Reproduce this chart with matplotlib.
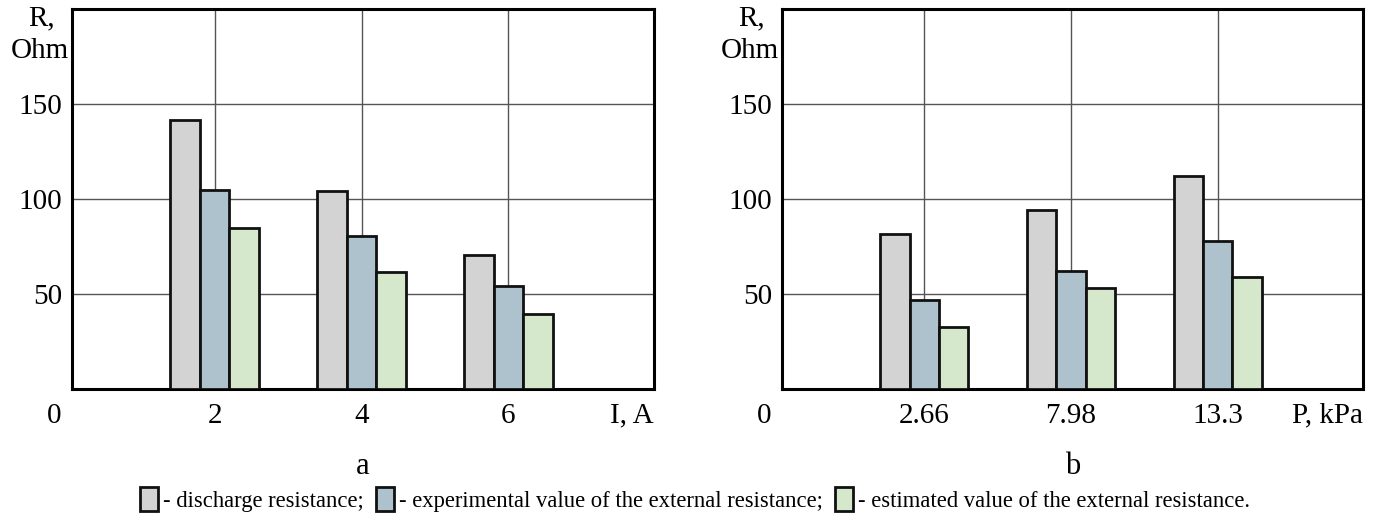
import numpy as np
import matplotlib
matplotlib.use('Agg')
import matplotlib.pyplot as plt
from matplotlib.patches import Patch

plt.rcParams['font.family'] = ['Liberation Serif', 'DejaVu Serif']

# data
current_labels = ['2', '4', '6']
pressure_labels = ['2.66', '7.98', '13.3']
series_names = ['- discharge resistance;',
                '- experimental value of the external resistance;',
                '- estimated value of the external resistance.']
current_discharge = [141.5, 104.2, 70.5]
current_experimental = [104.7, 80.5, 54.2]
current_estimated = [84.7, 61.6, 39.5]
pressure_discharge = [81.6, 94.2, 112.0]
pressure_experimental = [46.8, 62.0, 78.0]
pressure_estimated = [32.6, 53.0, 59.0]
yticks = [50, 100, 150]

colors = ['#d3d3d3', '#adc2cc', '#d5e8cc']
fs = 21


def panel(ax, labels, series, xname, letter):
    pos = np.arange(1, len(labels) + 1)
    w = 0.2
    for k, vals in enumerate(series):
        ax.bar(pos + (k - 1) * w, vals, w, color=colors[k],
               edgecolor='#111111', linewidth=2.0, zorder=3)
    ax.set_xlim(0.03, 3.99)
    ax.set_ylim(0, 200)
    ax.set_xticks(pos)
    ax.set_xticklabels([])
    ax.set_yticks(yticks)
    ax.set_yticklabels([str(t) for t in yticks], fontsize=fs)
    ax.tick_params(length=0, pad=7)
    ax.grid(True, color='#555555', linewidth=1.0, zorder=0)
    for s in ax.spines.values():
        s.set_linewidth(2.2)
        s.set_color('black')
    for p, lab in zip(pos, labels):
        ax.text(p, -0.07, lab, transform=ax.get_xaxis_transform(),
                ha='center', va='center', fontsize=fs)
    ax.text(-0.03, -0.07, '0', transform=ax.transAxes,
            ha='center', va='center', fontsize=fs)
    ax.text(1.0, -0.07, xname, transform=ax.transAxes,
            ha='right', va='center', fontsize=fs)
    ax.text(-0.052, 0.975, 'R,', transform=ax.transAxes,
            ha='center', va='center', fontsize=fs)
    ax.text(-0.055, 0.89, 'Ohm', transform=ax.transAxes,
            ha='center', va='center', fontsize=fs)
    ax.text(0.5, -0.205, letter, transform=ax.transAxes,
            ha='center', va='center', fontsize=22)


fig = plt.figure(figsize=(13.9, 5.17), dpi=100)
ax1 = fig.add_axes([0.0518, 0.2476, 0.4187, 0.735])
ax2 = fig.add_axes([0.5626, 0.2476, 0.418, 0.735])

panel(ax1, current_labels,
      [current_discharge, current_experimental, current_estimated], 'I, A', 'a')
panel(ax2, pressure_labels,
      [pressure_discharge, pressure_experimental, pressure_estimated], 'P, kPa', 'b')

handles = [Patch(facecolor=c, edgecolor='#111111', linewidth=2.0) for c in colors]
fig.legend(handles, series_names, loc='center', bbox_to_anchor=(0.5, 0.034),
           ncol=3, frameon=False, fontsize=16.3, handlelength=0.8,
           handleheight=1.25, handletextpad=0.2, columnspacing=0.55,
           borderpad=0)

fig.savefig('out.png', dpi=100)
